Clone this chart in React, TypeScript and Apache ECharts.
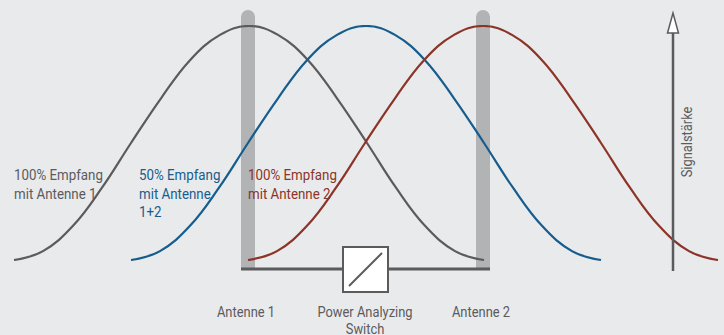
import React, { useEffect, useRef } from "react";
import * as echarts from "echarts";

// Horizontal positions (px along the diagram) of each curve's sample points
const grayX = [14, 43, 73, 102, 131, 161, 190, 220, 249, 278, 308, 337, 367, 396, 425, 455, 484];
const blueX = [131, 160, 190, 219, 248, 278, 307, 337, 366, 395, 425, 454, 484, 513, 542, 572, 601];
const redX = [248, 277, 307, 336, 365, 395, 424, 454, 483, 512, 542, 571, 601, 630, 659, 689, 718];
// Signal strength (%)
const graySignal = [0, 3.8, 14.6, 30.9, 50, 69.1, 85.4, 96.2, 100, 96.2, 85.4, 69.1, 50, 30.9, 14.6, 3.8, 0];
const blueSignal = [0, 3.8, 14.6, 30.9, 50, 69.1, 85.4, 96.2, 100, 96.2, 85.4, 69.1, 50, 30.9, 14.6, 3.8, 0];
const redSignal = [0, 3.8, 14.6, 30.9, 50, 69.1, 85.4, 96.2, 100, 96.2, 85.4, 69.1, 50, 30.9, 14.6, 3.8, 0];

const antennaX = [248, 483];
const antennaLabels = ["Antenne 1", "Antenne 2"];
const switchLabel = "Power Analyzing\nSwitch";
const curveLabels = ["100% Empfang\nmit Antenne 1", "50% Empfang\nmit Antenne\n1+2", "100% Empfang\nmit Antenne 2"];
const axisLabel = "Signalstärke";

const GRAY = "#5b5b5d";
const BLUE = "#165d8d";
const RED = "#8c3428";
const BG = "#e9eaec";
const FONT = "Roboto, 'Liberation Sans', sans-serif";
const SQUEEZE = 0.86;

export default function App() {
  const ref = useRef<HTMLDivElement>(null);
  useEffect(() => {
    if (!ref.current) return;
    const chart = echarts.init(ref.current, null, { renderer: "svg" });
    const mk = (xs: number[], ys: number[]) => xs.map((x, i) => [x, ys[i]]);
    const line = (name: string, data: number[][], color: string) => ({
      name,
      type: "line",
      data,
      smooth: 0.4,
      showSymbol: false,
      symbol: "none",
      z: 5,
      lineStyle: { color, width: 2.2 },
    });
    chart.setOption({
      animation: false,
      backgroundColor: BG,
      grid: { left: 0, right: 0, top: 26, bottom: 75 },
      xAxis: { type: "value", min: 0, max: 724, show: false },
      yAxis: { type: "value", min: 0, max: 100, show: false },
      series: [
        line("Antenne 1", mk(grayX, graySignal), GRAY),
        line("Antenne 1+2", mk(blueX, blueSignal), BLUE),
        line("Antenne 2", mk(redX, redSignal), RED),
      ],
    });
    const px = (x: number, y: number) => chart.convertToPixel({ gridIndex: 0 }, [x, y]) as number[];
    const text = (x: number, y: number, t: string, fill: string, size: number, align: string, vAlign: string, lh?: number, rotation = 0) => ({
      type: "text",
      z: 10,
      x,
      y,
      rotation,
      scaleX: SQUEEZE,
      style: { x: 0, y: 0, text: t, fill, font: `${size}px ${FONT}`, align, verticalAlign: vAlign, lineHeight: lh },
    });
    const baseY = 269;
    const topY = 10;
    const graphics: any[] = [];
    antennaX.forEach((ax, i) => {
      const cx = px(ax, 0)[0];
      graphics.push({
        type: "rect",
        z: 1,
        shape: { x: cx - 7, y: topY, width: 14, height: baseY - topY, r: [7, 7, 0, 0] },
        style: { fill: "#b2b3b5" },
      });
      graphics.push(text(cx - 2, 312, antennaLabels[i], GRAY, 15, "center", "middle"));
    });
    const x1 = px(antennaX[0], 0)[0];
    const x2 = px(antennaX[1], 0)[0];
    graphics.push({
      type: "line",
      z: 6,
      shape: { x1: x1 - 7, y1: baseY, x2: x2 + 7, y2: baseY },
      style: { stroke: GRAY, lineWidth: 3 },
    });
    const sx = (x1 + x2) / 2 - 0.5;
    graphics.push({
      type: "rect",
      z: 7,
      shape: { x: sx - 22, y: 247, width: 45, height: 45 },
      style: { fill: "#ffffff", stroke: GRAY, lineWidth: 2 },
    });
    graphics.push({
      type: "line",
      z: 8,
      shape: { x1: sx - 16, y1: 286, x2: sx + 17, y2: 253 },
      style: { stroke: GRAY, lineWidth: 2 },
    });
    graphics.push(text(sx, 320.5, switchLabel, GRAY, 15, "center", "middle", 17));
    // Curve labels
    const labelPos: [number, string][] = [[14, GRAY], [139, BLUE], [248, RED]];
    curveLabels.forEach((t, i) => {
      graphics.push(text(labelPos[i][0], 166, t, labelPos[i][1], 15.5, "left", "top", 18.5));
    });
    // Signal axis arrow
    graphics.push({
      type: "line",
      z: 6,
      shape: { x1: 673, y1: 271, x2: 673, y2: 32 },
      style: { stroke: GRAY, lineWidth: 2.5 },
    });
    graphics.push({
      type: "polygon",
      z: 7,
      shape: { points: [[673, 13], [667.5, 33], [678.5, 33]] },
      style: { fill: "#ffffff", stroke: GRAY, lineWidth: 1.5 },
    });
    graphics.push(text(687, 142, axisLabel, GRAY, 15, "center", "middle", undefined, Math.PI / 2));
    chart.setOption({ graphic: graphics });
    return () => chart.dispose();
  }, []);
  return <div ref={ref} style={{ width: 724, height: 335, position: "absolute", left: 0, top: 0 }} />;
}
